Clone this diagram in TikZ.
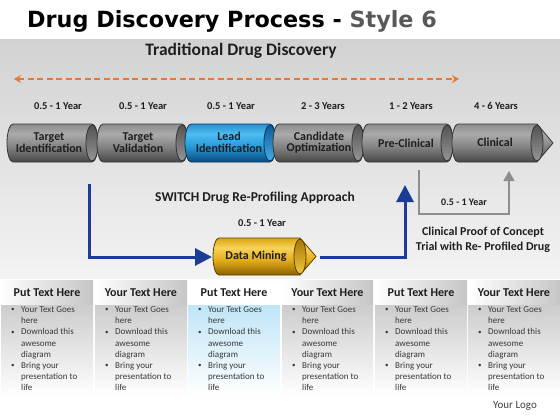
\documentclass[tikz,border=0pt]{standalone}
\usepackage{fontspec}
\setmainfont{Carlito}
\newfontfamily\titlefont{DejaVu Sans}
\usetikzlibrary{arrows.meta}

\definecolor{bandT}{HTML}{D2D2D2}
\definecolor{bandB}{HTML}{F3F3F3}
\definecolor{styl}{HTML}{595959}
\definecolor{txt}{HTML}{1E1E1E}
\definecolor{orng}{HTML}{E57A2C}
\definecolor{navy}{HTML}{1B3D95}
\definecolor{garr}{HTML}{8E8E8E}
\definecolor{paleblue}{HTML}{BFE5F7}
% gray cylinder
\definecolor{gT}{HTML}{8C8C8C}
\definecolor{gL}{HTML}{AAAAAA}
\definecolor{gM}{HTML}{838383}
\definecolor{gD}{HTML}{474747}
\definecolor{gO}{HTML}{363636}
\definecolor{gFL}{HTML}{959595}
\definecolor{gFD}{HTML}{545454}
% blue cylinder
\definecolor{bT}{HTML}{2A90CF}
\definecolor{bL}{HTML}{4CBDF0}
\definecolor{bM}{HTML}{2698D6}
\definecolor{bD}{HTML}{0B4A80}
\definecolor{bO}{HTML}{0A3560}
\definecolor{bFL}{HTML}{45AEE6}
\definecolor{bFD}{HTML}{0D5A96}
% gold cylinder
\definecolor{oT}{HTML}{DDA60E}
\definecolor{oL}{HTML}{F7D35A}
\definecolor{oM}{HTML}{E2AC18}
\definecolor{oD}{HTML}{8A6000}
\definecolor{oO}{HTML}{5C4200}
\definecolor{oFL}{HTML}{F2C640}
\definecolor{oFD}{HTML}{A87800}

\pgfdeclareverticalshading{cylG}{100bp}{color(0bp)=(gD); color(25bp)=(gD); color(45bp)=(gM); color(62bp)=(gL); color(75bp)=(gT); color(100bp)=(gT)}
\pgfdeclareverticalshading{faceG}{100bp}{color(0bp)=(gFL); color(25bp)=(gFL); color(75bp)=(gFD); color(100bp)=(gFD)}
\pgfdeclareverticalshading{cylB}{100bp}{color(0bp)=(bD); color(25bp)=(bD); color(45bp)=(bM); color(62bp)=(bL); color(75bp)=(bT); color(100bp)=(bT)}
\pgfdeclareverticalshading{faceB}{100bp}{color(0bp)=(bFL); color(25bp)=(bFL); color(75bp)=(bFD); color(100bp)=(bFD)}
\pgfdeclareverticalshading{cylO}{100bp}{color(0bp)=(oD); color(25bp)=(oD); color(45bp)=(oM); color(62bp)=(oL); color(75bp)=(oT); color(100bp)=(oT)}
\pgfdeclareverticalshading{faceO}{100bp}{color(0bp)=(oFL); color(25bp)=(oFL); color(75bp)=(oFD); color(100bp)=(oFD)}

% #1 x0, #2 x1 (face centre), #3 top, #4 bottom, #5 body shading, #6 face shading, #7 outline
\newcommand\drawcyl[7]{%
  \shadedraw[shading=#5, draw=#7, line width=0.8pt]
    (#1+6,#3) -- (#2,#3)
    arc[start angle=-90, end angle=90, x radius=6, y radius={(#4-#3)/2}]
    -- (#1+6,#4)
    arc[start angle=90, end angle=270, x radius=6, y radius={(#4-#3)/2}] -- cycle;
  \shadedraw[shading=#6, draw=#7, line width=0.8pt]
    (#2,{(#3+#4)/2}) ellipse[x radius=6, y radius={(#4-#3)/2-1}];
}
\newcommand\drawcylarrow[7]{%
  \shadedraw[shading=#5, draw=#7, line width=0.8pt, line join=round]
    (#1+6,#3) -- (#2,#3) -- (#2+16,{(#3+#4)/2}) -- (#2,#4)
    -- (#1+6,#4)
    arc[start angle=90, end angle=270, x radius=6, y radius={(#4-#3)/2}] -- cycle;
  \shadedraw[shading=#6, draw=#7, line width=0.8pt]
    (#2,{(#3+#4)/2}) ellipse[x radius=6, y radius={(#4-#3)/2-1}];
}
\newcommand\bul{\makebox[10pt][l]{\fontsize{7}{7}\selectfont\raisebox{0.6pt}{•}}}
\newcommand\nob{\hspace*{10pt}}

\tikzset{
  cyltext/.style={font=\bfseries\fontsize{12}{11.5}\selectfont, align=center, text=txt, inner sep=0},
  yeartext/.style={font=\bfseries\fontsize{10.5}{12}\selectfont, text=txt, inner sep=0},
  midtext/.style={font=\bfseries\fontsize{12}{15}\selectfont, text=txt, inner sep=0, align=center},
  bluearr/.style={draw=navy, line width=3pt, -{Triangle[length=17pt,width=17pt]}},
  grayarr/.style={draw=garr, line width=1.6pt, -{Triangle[length=10pt,width=11pt]}},
  orangearr/.style={draw=orng, line width=2pt, dash pattern=on 6pt off 3.5pt,
    {Stealth[length=7pt,width=8pt]}-{Stealth[length=7pt,width=8pt]}},
  headtext/.style={font=\bfseries\fontsize{12}{14}\selectfont, text=txt, inner sep=0},
  bodytext/.style={font=\fontsize{9}{11.2}\selectfont, text=black!78, inner sep=0, align=left, anchor=north west}
}

\begin{document}
\begin{tikzpicture}[x=1pt,y=-1pt]
\useasboundingbox (0,0) rectangle (560,420);
\fill[white] (0,0) rectangle (560,420);
\shade[top color=bandT, bottom color=bandB] (0,40) rectangle (560,278);

% title
\node[anchor=base west, inner sep=0, font=\titlefont\bfseries\fontsize{22.3}{26}\selectfont, text=black] (title) at (27,28)
  {Drug Discovery Process - \textcolor{styl}{Style 6}};

\node[font=\bfseries\fontsize{17.5}{20}\selectfont, text=txt, inner sep=0] (trad) at (241,51) {Traditional Drug Discovery};

\coordinate (oL) at (14,79);
\coordinate (oR) at (459,79);
\draw[orangearr] (oL) -- (oR);

% year labels
\node[yeartext] (y1) at (58,106) {0.5 - 1 Year};
\node[yeartext] (y2) at (143,106) {0.5 - 1 Year};
\node[yeartext] (y3) at (231,106) {0.5 - 1 Year};
\node[yeartext] (y4) at (323,106) {2 - 3 Years};
\node[yeartext] (y5) at (411,106) {1 - 2 Years};
\node[yeartext] (y6) at (496,106) {4 - 6 Years};

% cylinders
\drawcyl{7}{92}{124}{162}{cylG}{faceG}{gO}
\drawcyl{97}{182}{124}{162}{cylG}{faceG}{gO}
\drawcyl{185}{270}{124}{162}{cylB}{faceB}{bO}
\drawcyl{273}{358}{124}{162}{cylG}{faceG}{gO}
\drawcyl{362}{447}{124}{162}{cylG}{faceG}{gO}
\drawcylarrow{452}{537}{124}{162}{cylG}{faceG}{gO}

\node[cyltext] (c1) at (49,142.5) {Target\\Identification};
\node[cyltext] (c2) at (138,142.5) {Target\\Validation};
\node[cyltext] (c3) at (229,142.5) {Lead\\Identification};
\node[cyltext] (c4) at (319,142.5) {Candidate\\Optimization};
\node[cyltext] (c5) at (406,143) {Pre-Clinical};
\node[cyltext] (c6) at (495,142) {Clinical};

% switch approach
\node[font=\bfseries\fontsize{13.5}{16}\selectfont, text=txt, inner sep=0] (sw) at (255,198) {SWITCH Drug Re-Profiling Approach};
\node[yeartext] (ydm) at (262,223) {0.5 - 1 Year};

\drawcylarrow{213}{300}{238}{275}{cylO}{faceO}{oO}
\node[cyltext] (dm) at (256,256.5) {Data Mining};

\coordinate (bs) at (89,184);
\coordinate (dmL) at (212,257);
\coordinate (dmR) at (320,257);
\coordinate (pe) at (405,185);
\draw[bluearr] (bs) |- (dmL);
\draw[bluearr] (dmR) -| (pe);

% gray proof-of-concept connector
\coordinate (gs) at (419,170);
\coordinate (gc) at (509,214);
\coordinate (ge) at (509,171);
\draw[grayarr] (gs) |- (gc) -- (ge);
\node[yeartext, font=\bfseries\fontsize{10}{12}\selectfont] (yg) at (464,202) {0.5 - 1 Year};
\node[midtext] (poc) at (483,239.5) {Clinical Proof of Concept\\Trial with Re- Profiled Drug};

% bottom panels
\foreach \i/\xa/\xb/\head/\hr/\ctop in {
  1/1/93/Put Text Here/gray!45/gray!40,
  2/95/187/Your Text Here/gray!45/gray!40,
  3/188/280/Put Text Here/white/paleblue,
  4/282/373/Your Text Here/gray!45/gray!40,
  5/375/467/Put Text Here/gray!45/gray!40,
  6/468/560/Your Text Here/gray!45/gray!40}{
  \shade[left color=white, middle color=white, right color=\hr] (\xa,280) rectangle (\xb,305);
  \shade[top color=\ctop, bottom color=white] (\xa,305) rectangle (\xb,396);
  \node[headtext] (h\i) at ({(\xa+\xb)/2},293) {\head};
  \node[bodytext] (b\i) at (\xa+10,306.5)
    {\bul Your Text Goes\\\nob here\\\bul Download this\\\nob awesome\\\nob diagram\\\bul Bring your\\\nob presentation to\\\nob life};
}

\node[font=\fontsize{11}{13}\selectfont, text=black!75, inner sep=0] (logo) at (515,406) {Your Logo};
\end{tikzpicture}
\end{document}
